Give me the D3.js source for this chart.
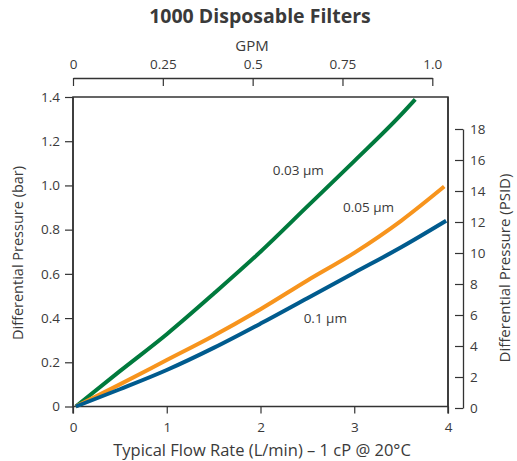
<!DOCTYPE html>
<html><head><meta charset="utf-8">
<script src="https://cdn.jsdelivr.net/npm/d3@7"></script>
<style>
body{margin:0;background:#fff;}
text{font-family:"Open Sans","Noto Sans",sans-serif;fill:#3a3a3a;}
</style></head>
<body><svg id="c" width="517" height="461"></svg>
<script>
const title = "1000 Disposable Filters";
const xTicks = [0, 1, 2, 3, 4];
const yTicks = [0, 0.2, 0.4, 0.6, 0.8, 1.0, 1.2, 1.4];
const yTickLabels = ["0", "0.2", "0.4", "0.6", "0.8", "1.0", "1.2", "1.4"];
const gpmTicks = [0, 0.25, 0.5, 0.75, 1.0];
const gpmTickLabels = ["0", "0.25", "0.5", "0.75", "1.0"];
const psiTicks = [0, 2, 4, 6, 8, 10, 12, 14, 16, 18];
const seriesNames = ["0.03 µm", "0.05 µm", "0.1 µm"];
const flow003 = [0.03, 0.5, 1, 1.5, 2, 2.5, 3, 3.5, 3.65];
const dp003 = [0, 0.16, 0.327, 0.51, 0.70, 0.905, 1.11, 1.32, 1.389];
const flow005 = [0.03, 0.5, 1, 1.5, 2, 2.5, 3, 3.5, 3.96];
const dp005 = [0, 0.10, 0.21, 0.32, 0.44, 0.57, 0.695, 0.84, 0.995];
const flow01 = [0.03, 0.5, 1, 1.5, 2, 2.5, 3, 3.5, 3.98];
const dp01 = [0, 0.078, 0.165, 0.265, 0.375, 0.49, 0.605, 0.72, 0.84];
const colors = ["#007a3d", "#f7941d", "#005b8e"];

const svg = d3.select("#c");
const L = 73, R = 448, T = 97, B = 406.5;
const x = d3.scaleLinear().domain([0, 4]).range([L, R]);
const y = d3.scaleLinear().domain([0, 1.4]).range([B, T]);
const xg = d3.scaleLinear().domain([0, 1]).range([L, 432.3]);
const yp = d3.scaleLinear().domain([0, 18]).range([408, 129]);

// frame
svg.append("rect").attr("x", L).attr("y", T).attr("width", R - L).attr("height", B - T)
  .attr("fill", "none").attr("stroke", "#333").attr("stroke-width", 1.5);

// bottom axis
const ax = svg.append("g").attr("transform", `translate(0,${B})`)
  .call(d3.axisBottom(x).tickValues(xTicks).tickFormat(d3.format("d")).tickSize(7).tickPadding(9));
// left axis
const ay = svg.append("g").attr("transform", `translate(${L},0)`)
  .call(d3.axisLeft(y).tickValues(yTicks).tickFormat((d, i) => yTickLabels[i]).tickSize(8).tickPadding(5));
// top axis
const at = svg.append("g").attr("transform", `translate(0,78)`)
  .call(d3.axisBottom(xg).tickValues(gpmTicks).tickFormat((d, i) => gpmTickLabels[i]).tickSize(8).tickSizeOuter(0));
at.selectAll(".tick text").attr("y", -9).attr("dy", "0");
// right axis
const ar = svg.append("g").attr("transform", `translate(463,0)`)
  .call(d3.axisRight(yp).tickValues(psiTicks).tickFormat(d3.format("d")).tickSize(-8).tickSizeOuter(0).tickPadding(8));
ar.selectAll(".tick text").attr("x", 7);

[ax, ay, at, ar].forEach(g => {
  g.selectAll("path.domain").attr("stroke", "#333").attr("stroke-width", 1.3);
  g.selectAll(".tick line").attr("stroke", "#333").attr("stroke-width", 1.2);
  g.selectAll(".tick text").style("font-size", "13.5px").attr("fill", "#3a3a3a");
});
ax.select("path.domain").remove();
ay.select("path.domain").remove();
svg.append("line").attr("x1", L).attr("x2", L).attr("y1", T).attr("y2", B + 7).attr("stroke", "#333").attr("stroke-width", 1.5);
svg.append("line").attr("x1", R).attr("x2", R).attr("y1", T).attr("y2", B + 7).attr("stroke", "#333").attr("stroke-width", 1.5);

// lines
const line = d3.line().x(d => x(d[0])).y(d => y(d[1])).curve(d3.curveMonotoneX);
const data = [
  d3.zip(flow003, dp003),
  d3.zip(flow005, dp005),
  d3.zip(flow01, dp01)
];
data.forEach((d, i) => {
  svg.append("path").datum(d).attr("d", line).attr("fill", "none")
    .attr("stroke", colors[i]).attr("stroke-width", 4).attr("stroke-linejoin", "round");
});

// series labels
const labelPos = [[2.13, 1.07], [2.88, 0.90], [2.46, 0.40]];
seriesNames.forEach((n, i) => {
  svg.append("text").attr("x", x(labelPos[i][0])).attr("y", y(labelPos[i][1])).attr("dy", "0.35em")
    .style("font-size", "13.5px").text(n);
});

// titles
svg.append("text").attr("x", 260).attr("y", 23).attr("text-anchor", "middle")
  .style("font-size", "19.5px").style("font-weight", "bold").attr("fill", "#222").text(title);
svg.append("text").attr("x", 252).attr("y", 51).attr("text-anchor", "middle")
  .style("font-size", "15px").text("GPM");
svg.append("text").attr("x", 262).attr("y", 456).attr("text-anchor", "middle")
  .style("font-size", "16.5px").text("Typical Flow Rate (L/min) – 1 cP @ 20°C");
svg.append("text").attr("transform", "translate(23,253) rotate(-90)").attr("text-anchor", "middle")
  .style("font-size", "14.5px").text("Differential Pressure (bar)");
svg.append("text").attr("transform", "translate(510,268) rotate(-90)").attr("text-anchor", "middle")
  .style("font-size", "15px").text("Differential Pressure (PSID)");
</script></body></html>
